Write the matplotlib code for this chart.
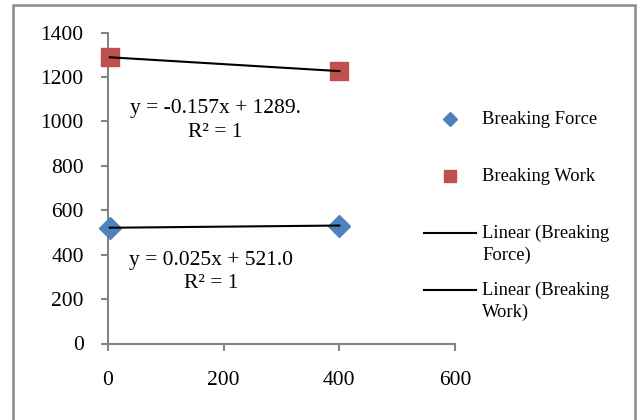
import numpy as np
import matplotlib.pyplot as plt
from matplotlib.patches import Rectangle
from matplotlib.lines import Line2D

plt.rcParams['font.family'] = ['Liberation Serif', 'DejaVu Serif']

x = np.array([3, 400])
force = np.array([521.1, 531.0])
work = np.array([1288.5, 1226.2])

force_eq = ['y = 0.025x + 521.0', 'R² = 1']
work_eq = ['y = -0.157x + 1289.', 'R² = 1']

blue = '#4F81BD'
red = '#C0504D'
gray = '#868686'

W, H = 643, 420
fig = plt.figure(figsize=(6.43, 4.2), dpi=100)
ax = fig.add_axes([108 / W, 1 - 343.5 / H, (455 - 108) / W, (343.5 - 32.5) / H])

# linear trendlines (Excel style)
for ys in (force, work):
    k, b = np.polyfit(x, ys, 1)
    ax.plot(x, k * x + b, color='black', lw=1.5, zorder=3, clip_on=False)

ax.plot(x, force, ls='none', marker='D', ms=11.5, color=blue, zorder=2, clip_on=False)
ax.plot(x, work, ls='none', marker='s', ms=13, color=red, zorder=2, clip_on=False)

ax.set_xlim(0, 600)
ax.set_ylim(0, 1400)
ax.set_xticks(np.arange(0, 601, 200))
ax.set_yticks(np.arange(0, 1401, 200))
for s in ('top', 'right'):
    ax.spines[s].set_visible(False)
for s in ('left', 'bottom'):
    ax.spines[s].set_color(gray)
    ax.spines[s].set_linewidth(1.5)
    ax.spines[s].set_zorder(1)
ax.tick_params(length=5, width=1.5, color=gray, pad=12.5, labelsize=15.5)
ax.tick_params(axis='x', pad=15)
ax.set_facecolor('none')

# trendline equations
ax.text(185, 1059, work_eq[0], ha='center', va='center', fontsize=15.5)
ax.text(185, 951, work_eq[1], ha='center', va='center', fontsize=15.5)
ax.text(178, 374, force_eq[0], ha='center', va='center', fontsize=15.5)
ax.text(178, 270, force_eq[1], ha='center', va='center', fontsize=15.5)

# legend, drawn in figure pixels
def fx(px):
    return px / W

def fy(py):
    return 1 - py / H

fig.add_artist(Line2D([fx(450)], [fy(119)], marker='D', ms=7.5, color=blue, ls='none'))
fig.add_artist(Line2D([fx(450)], [fy(176)], marker='s', ms=8.5, color=red, ls='none'))
fig.add_artist(Line2D([fx(424), fx(476)], [fy(233), fy(233)], color='black', lw=1.5))
fig.add_artist(Line2D([fx(424), fx(476)], [fy(289.5), fy(289.5)], color='black', lw=1.5))
legend_lines = [('Breaking Force', 119), ('Breaking Work', 176),
                ('Linear (Breaking', 233), ('Force)', 255),
                ('Linear (Breaking', 290), ('Work)', 312)]
for txt, py in legend_lines:
    fig.text(fx(482), fy(py), txt, ha='left', va='center', fontsize=13.3)

# chart border
fig.add_artist(Rectangle((fx(13), fy(440)), fx(635) - fx(13), fy(5) - fy(440),
                         fill=False, edgecolor='#8a8a8a', lw=1.8,
                         transform=fig.transFigure))

fig.savefig('out.png', dpi=100)
